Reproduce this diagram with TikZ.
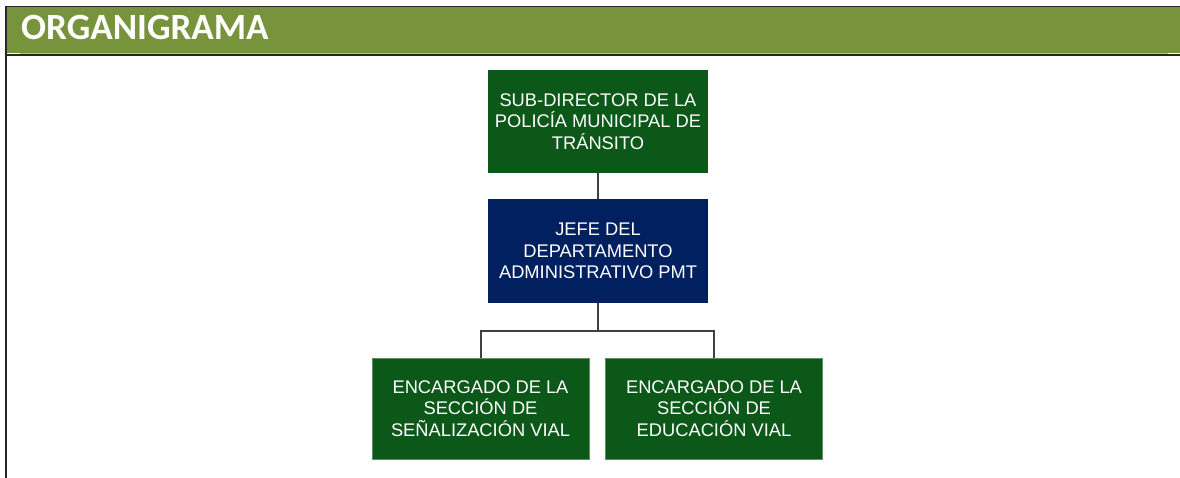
\documentclass[tikz,border=0pt]{standalone}
\usepackage{fontspec}
\setmainfont{Liberation Sans}
\newfontfamily\titlefont{Carlito}
\usepackage{tikz}
\usetikzlibrary{calc}
\definecolor{bandgreen}{HTML}{77933C}
\definecolor{boxgreen}{HTML}{0C5819}
\definecolor{boxedge}{HTML}{5E8F5E}
\definecolor{boxnavy}{HTML}{002060}
\definecolor{linkgray}{HTML}{404040}
\tikzstyle{greenbox}=[draw=boxedge, line width=0.8pt, fill=boxgreen, text=white, shape=rectangle, align=center, font=\fontsize{18.3}{21.5}\selectfont, inner sep=0pt]
\tikzstyle{navybox}=[fill=boxnavy, text=white, shape=rectangle, align=center, font=\fontsize{18.3}{21.5}\selectfont, inner sep=0pt]
\tikzstyle{link}=[draw=linkgray, line width=2pt]

\begin{document}
\begin{tikzpicture}[x=1pt, y=-1pt]
\useasboundingbox (0,0) rectangle (1180,478);
% the title band
\fill[bandgreen] (6,7) rectangle (1180,53.5);
\draw[black!85, line width=1.4pt] (5.5,6.5) -- (1180,6.5);
\draw[black!30, line width=0.8pt] (20,53) -- (1168,53);
\draw[black!85, line width=1.4pt] (5.5,55) -- (1180,55);
\draw[black!85, line width=1.6pt] (6,6) -- (6,478);
\node[anchor=base west, text=white, font=\titlefont\bfseries\fontsize{37}{37}\selectfont, inner sep=0pt] (title) at (21,40) {ORGANIGRAMA};
% the top two boxes
\node[greenbox, draw=none, minimum width=220pt, minimum height=103pt] (sub) at (598,121.5) {SUB-DIRECTOR DE LA\\POLICÍA MUNICIPAL DE\\TRÁNSITO};
\node[navybox, minimum width=220pt, minimum height=104pt] (jefe) at (598,251) {JEFE DEL\\DEPARTAMENTO\\ADMINISTRATIVO PMT};
% the two sections
\node[greenbox, minimum width=217pt, minimum height=101pt] (senal) at (480.5,408.5) {ENCARGADO DE LA\\SECCIÓN DE\\SEÑALIZACIÓN VIAL};
\node[greenbox, minimum width=217pt, minimum height=101pt] (edu) at (714,408.5) {ENCARGADO DE LA\\SECCIÓN DE\\EDUCACIÓN VIAL};
% the connectors
\coordinate (fork) at (598,331);
\draw[link] (sub) -- (jefe);
\draw[link] (jefe) -- (fork);
\draw[link] (senal.north) |- (fork) -| (edu.north);
\end{tikzpicture}
\end{document}
